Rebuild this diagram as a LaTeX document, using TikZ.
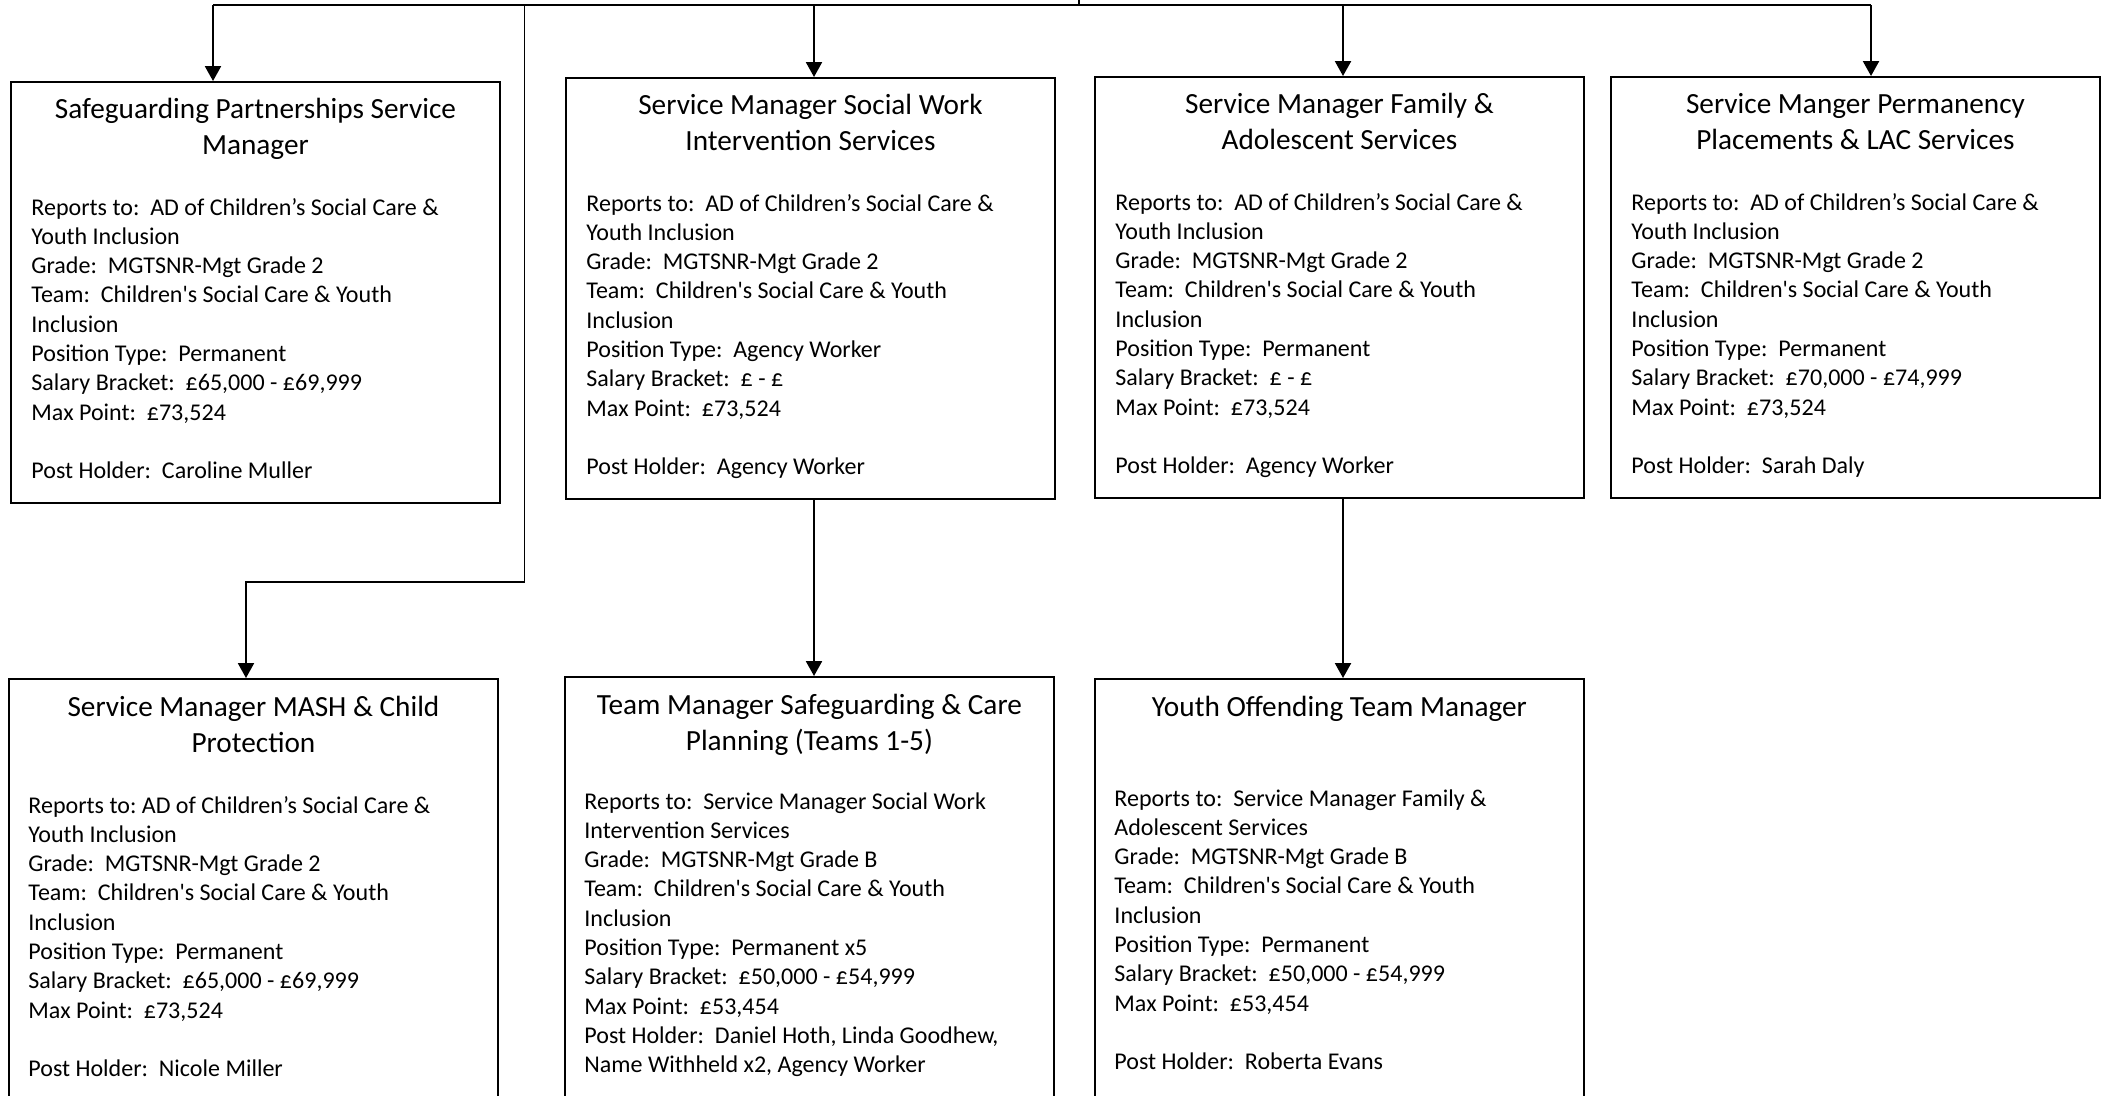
\documentclass[tikz,border=0pt]{standalone}
\usepackage{fontspec}
\newfontfamily\orgfont{Carlito}
\usepackage{tikz}
\usetikzlibrary{arrows.meta,positioning,calc}
\tikzset{
  post/.style={rectangle, draw, line width=0.8pt, minimum width=224pt, minimum height=193pt, anchor=north west, inner sep=0pt},
  postlow/.style={post, minimum height=205pt},
  ttl/.style={text width=215pt, align=center, inner sep=0pt, anchor=base, font=\orgfont\frenchspacing\fontsize{13.4}{16.7}\selectfont, execute at begin node={\spaceskip=0.226em\relax}},
  info/.style={text width=218pt, align=left, inner sep=0pt, anchor=base west, font=\orgfont\frenchspacing\fontsize{11}{13.42}\selectfont, execute at begin node={\spaceskip=0.226em\relax}},
  wire/.style={line width=0.9pt},
  arrow/.style={wire, -{Triangle[width=7.3pt,length=6.8pt]}}
}

\begin{document}
\begin{tikzpicture}[x=0.458pt, y=-0.458pt]
  \useasboundingbox (0,0) rectangle (2105,1095);
  \clip (0,0) rectangle (2105,1095);

  \node[post] (b1) at (10,81) {};
  \node[post] (b2) at (565,77) {};
  \node[post] (b3) at (1094,76) {};
  \node[post] (b4) at (1610,76) {};
  \node[postlow] (b5) at (8,678) {};
  \node[postlow] (b6) at (564,676) {};
  \node[postlow] (b7) at (1094,678) {};

  \node[ttl] (t1) at ($(b1.north)+(0,37)$) {Safeguarding Partnerships Service\\Manager};
  \node[info] (i1) at ($(b1.north west)+(21,134)$) {Reports to:~ AD of Children’s Social Care \&\\Youth Inclusion\\Grade:~ MGTSNR-Mgt Grade 2\\Team:~ Children's Social Care \& Youth\\Inclusion\\Position Type:~ Permanent\\Salary Bracket:~ £65,000 - £69,999\\Max Point:~ £73,524\\[13.42pt]Post Holder:~ Caroline Muller};

  \node[ttl] (t2) at ($(b2.north)+(0,37)$) {Service Manager Social Work\\Intervention Services};
  \node[info] (i2) at ($(b2.north west)+(21,134)$) {Reports to:~ AD of Children’s Social Care \&\\Youth Inclusion\\Grade:~ MGTSNR-Mgt Grade 2\\Team:~ Children's Social Care \& Youth\\Inclusion\\Position Type:~ Agency Worker\\Salary Bracket:~ £ - £\\Max Point:~ £73,524\\[13.42pt]Post Holder:~ Agency Worker};

  \node[ttl] (t3) at ($(b3.north)+(0,37)$) {Service Manager Family \&\\Adolescent Services};
  \node[info] (i3) at ($(b3.north west)+(21,134)$) {Reports to:~ AD of Children’s Social Care \&\\Youth Inclusion\\Grade:~ MGTSNR-Mgt Grade 2\\Team:~ Children's Social Care \& Youth\\Inclusion\\Position Type:~ Permanent\\Salary Bracket:~ £ - £\\Max Point:~ £73,524\\[13.42pt]Post Holder:~ Agency Worker};

  \node[ttl] (t4) at ($(b4.north)+(0,37)$) {Service Manger Permanency\\Placements \& LAC Services};
  \node[info] (i4) at ($(b4.north west)+(21,134)$) {Reports to:~ AD of Children’s Social Care \&\\Youth Inclusion\\Grade:~ MGTSNR-Mgt Grade 2\\Team:~ Children's Social Care \& Youth\\Inclusion\\Position Type:~ Permanent\\Salary Bracket:~ £70,000 - £74,999\\Max Point:~ £73,524\\[13.42pt]Post Holder:~ Sarah Daly};

  \node[ttl] (t5) at ($(b5.north)+(0,38)$) {Service Manager MASH \& Child\\Protection};
  \node[info] (i5) at ($(b5.north west)+(20,135)$) {Reports to: AD of Children’s Social Care \&\\Youth Inclusion\\Grade:~ MGTSNR-Mgt Grade 2\\Team:~ Children's Social Care \& Youth\\Inclusion\\Position Type:~ Permanent\\Salary Bracket:~ £65,000 - £69,999\\Max Point:~ £73,524\\[13.42pt]Post Holder:~ Nicole Miller};

  \node[ttl] (t6) at ($(b6.north)+(0,38)$) {Team Manager Safeguarding \& Care\\Planning (Teams 1-5)};
  \node[info] (i6) at ($(b6.north west)+(20,133)$) {Reports to:~ Service Manager Social Work\\Intervention Services\\Grade:~ MGTSNR-Mgt Grade B\\Team:~ Children's Social Care \& Youth\\Inclusion\\Position Type:~ Permanent x5\\Salary Bracket:~ £50,000 - £54,999\\Max Point:~ £53,454\\Post Holder:~ Daniel Hoth, Linda Goodhew,\\Name Withheld x2, Agency Worker};

  \node[ttl] (t7) at ($(b7.north)+(0,38)$) {Youth Offending Team Manager};
  \node[info] (i7) at ($(b7.north west)+(20,128)$) {Reports to:~ Service Manager Family \&\\Adolescent Services\\Grade:~ MGTSNR-Mgt Grade B\\Team:~ Children's Social Care \& Youth\\Inclusion\\Position Type:~ Permanent\\Salary Bracket:~ £50,000 - £54,999\\Max Point:~ £53,454\\[13.42pt]Post Holder:~ Roberta Evans};

  \coordinate (up) at (1079,0);
  \coordinate (hub) at (1079,5);
  \coordinate (d1) at (213,5);
  \coordinate (d2) at (814,5);
  \coordinate (d3) at (1343,5);
  \coordinate (d4) at (1871,5);
  \coordinate (d5) at (524.5,5);
  \coordinate (k5) at (246,582);

  \draw[wire] (up) -- (hub);
  \draw[wire] (d1) -- (d4);
  \draw[arrow] (d1) -- (d1 |- b1.north);
  \draw[arrow] (d2) -- (d2 |- b2.north);
  \draw[arrow] (d3) -- (d3 |- b3.north);
  \draw[arrow] (d4) -- (d4 |- b4.north);
  \draw[arrow] (d5) |- (k5) -- (k5 |- b5.north);
  \draw[arrow] (d2 |- b2.south) -- (d2 |- b6.north);
  \draw[arrow] (d3 |- b3.south) -- (d3 |- b7.north);
\end{tikzpicture}
\end{document}
